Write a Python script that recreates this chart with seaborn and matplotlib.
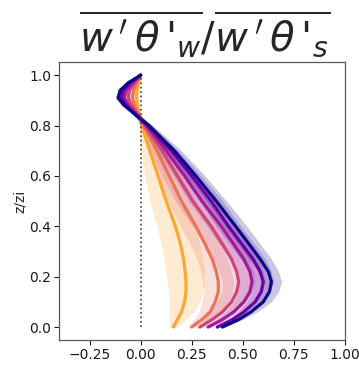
import numpy as np
import pandas as pd
import seaborn as sns
import matplotlib
import matplotlib.pyplot as plt

matplotlib.use("Agg")

# heights (z/zi) at which the profiles were read
z = [0.0, 0.03, 0.06, 0.10, 0.14, 0.18, 0.22, 0.27, 0.33, 0.40,
     0.50, 0.60, 0.70, 0.80, 0.84, 0.88, 0.91, 0.94, 0.97, 1.0]

cases = ["c1", "c2", "c3", "c4", "c5", "c6"]

# mean flux ratio profiles
flux_c1 = [0.16, 0.18, 0.20, 0.215, 0.222, 0.222, 0.218, 0.21, 0.195, 0.17,
           0.125, 0.085, 0.045, 0.005, -0.005, -0.015, -0.02, -0.018, -0.01, 0.0]
flux_c2 = [0.25, 0.30, 0.34, 0.365, 0.38, 0.38, 0.37, 0.35, 0.315, 0.27,
           0.20, 0.14, 0.08, 0.015, -0.008, -0.03, -0.04, -0.035, -0.02, 0.0]
flux_c3 = [0.29, 0.35, 0.40, 0.445, 0.47, 0.48, 0.47, 0.445, 0.40, 0.345,
           0.255, 0.18, 0.105, 0.02, -0.01, -0.045, -0.06, -0.055, -0.03, 0.0]
flux_c4 = [0.33, 0.40, 0.455, 0.505, 0.535, 0.545, 0.535, 0.505, 0.455, 0.395,
           0.30, 0.215, 0.125, 0.03, -0.015, -0.06, -0.08, -0.07, -0.04, 0.0]
flux_c5 = [0.375, 0.45, 0.505, 0.56, 0.59, 0.60, 0.585, 0.55, 0.495, 0.43,
           0.345, 0.25, 0.15, 0.035, -0.02, -0.07, -0.095, -0.085, -0.05, 0.0]
flux_c6 = [0.40, 0.48, 0.54, 0.60, 0.63, 0.64, 0.625, 0.585, 0.53, 0.465,
           0.37, 0.27, 0.165, 0.04, -0.02, -0.08, -0.11, -0.10, -0.06, 0.0]

# half width of the shaded spread
spread_c1 = [0.02, 0.04, 0.06, 0.075, 0.085, 0.09, 0.095, 0.095, 0.095, 0.09,
             0.08, 0.065, 0.045, 0.01, 0.01, 0.01, 0.01, 0.01, 0.005, 0.0]
spread_c2 = [0.02, 0.04, 0.055, 0.065, 0.07, 0.075, 0.075, 0.075, 0.075, 0.075,
             0.07, 0.06, 0.045, 0.015, 0.01, 0.01, 0.01, 0.01, 0.005, 0.0]
spread_c3 = [0.02, 0.04, 0.06, 0.07, 0.075, 0.08, 0.085, 0.09, 0.09, 0.09,
             0.085, 0.075, 0.055, 0.025, 0.015, 0.01, 0.01, 0.01, 0.005, 0.0]
spread_c4 = [0.015, 0.03, 0.04, 0.05, 0.06, 0.065, 0.065, 0.07, 0.07, 0.07,
             0.065, 0.055, 0.045, 0.025, 0.015, 0.01, 0.01, 0.01, 0.005, 0.0]
spread_c5 = [0.01, 0.02, 0.03, 0.04, 0.045, 0.05, 0.055, 0.06, 0.06, 0.06,
             0.055, 0.045, 0.035, 0.02, 0.015, 0.015, 0.015, 0.01, 0.01, 0.0]
spread_c6 = [0.01, 0.02, 0.03, 0.04, 0.045, 0.05, 0.05, 0.055, 0.055, 0.055,
             0.05, 0.045, 0.035, 0.02, 0.015, 0.015, 0.015, 0.01, 0.01, 0.0]

zero_line_z = [0.0, 1.0]

fluxes = [flux_c1, flux_c2, flux_c3, flux_c4, flux_c5, flux_c6]
spreads = [spread_c1, spread_c2, spread_c3, spread_c4, spread_c5, spread_c6]

# long table: low / mid / high per height, so the band is the min-max interval
rows = []
for case, flux, spread in zip(cases, fluxes, spreads):
    for zi, f, s in zip(z, flux, spread):
        for v in (f - s, f, f + s):
            rows.append({"case": case, "z": zi, "val": v})
df = pd.DataFrame(rows)

sns.set_style("ticks")
plt.rcParams["font.family"] = ["DejaVu Sans"]

cmap = matplotlib.colormaps["plasma"]
palette = [cmap(v) for v in (0.80, 0.65, 0.50, 0.35, 0.20, 0.0)]

fig = plt.figure(figsize=(3.59, 3.65), dpi=100)
ax = fig.add_axes([0.164, 0.068, 0.797, 0.762])

ax.plot([0, 0], zero_line_z, ls=":", color="0.25", lw=1.2, zorder=5)

sns.lineplot(data=df, x="val", y="z", hue="case", hue_order=cases,
             palette=palette, orient="y", estimator="mean",
             errorbar=("pi", 100), err_kws={"alpha": 0.22, "linewidth": 0},
             lw=2.3, legend=False, ax=ax)

ax.set_xlim(-0.4, 1.0)
ax.set_ylim(-0.052, 1.052)
ax.set_xticks([-0.25, 0.0, 0.25, 0.5, 0.75, 1.0])
ax.set_yticks([0.0, 0.2, 0.4, 0.6, 0.8, 1.0])
ax.set_xlabel("")
ax.set_ylabel("z/zi", fontsize=10, labelpad=2)
ax.tick_params(labelsize=10, length=3.5, pad=2, colors="0.1")
for sp in ax.spines.values():
    sp.set_color("0.35")
    sp.set_linewidth(0.9)

fig.text(0.57, 0.835, r"$\overline{w\,'\,\theta\,'_{w}}/\overline{w\,'\,\theta\,'_{s}}$",
         ha="center", va="bottom", fontsize=29)

fig.savefig("out.png", dpi=100)
plt.close(fig)
